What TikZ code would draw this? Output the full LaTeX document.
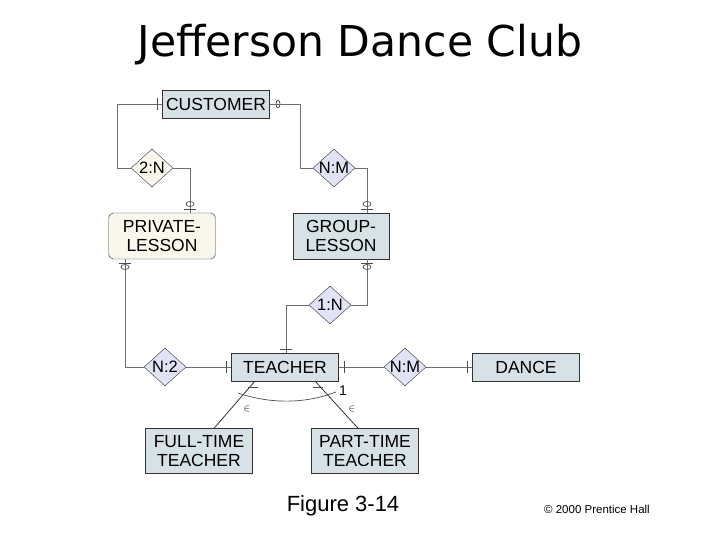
\documentclass[tikz,border=0pt]{standalone}
\usepackage{fontspec}
\setmainfont{Liberation Sans}
\newfontfamily\titlefont{DejaVu Sans}
\usetikzlibrary{shapes.geometric}
\definecolor{ent}{HTML}{D6E2E6}
\definecolor{rel}{HTML}{E2E4F6}
\definecolor{cream}{HTML}{FAF8EC}
\definecolor{ln}{HTML}{6E6E6E}
\begin{document}
\begin{tikzpicture}[x=1pt,y=-1pt,
  ent/.style={draw=black!80,fill=ent,minimum width=107pt,minimum height=28pt,align=center,font=\fontsize{17.5}{19}\selectfont,inner sep=1pt},
  rel/.style={draw=black!80,fill=rel,diamond,minimum width=42pt,minimum height=38pt,inner sep=-4pt,font=\fontsize{16.5}{16.5}\selectfont,aspect=1.1},
  con/.style={draw=ln,line width=0.8pt},
  mk/.style={draw=black!70,line width=0.7pt}]
\useasboundingbox (0,0) rectangle (720,540);
\node[font=\titlefont\fontsize{42.5}{44}\selectfont] (title) at (360,45) {Jefferson Dance Club};
\node[font=\fontsize{22}{24}\selectfont] (fig) at (343,506) {Figure 3-14};
\node[font=\fontsize{11.5}{12}\selectfont] (copy) at (597,509) {© 2000 Prentice Hall};

\node[ent] (cust) at (216,104) {CUSTOMER};
\node[rel,fill=cream] (r2n) at (152,168) {2:N};
\node[rel] (rnm) at (334,168) {N:M};
\node[ent,fill=cream,rounded corners=5pt,minimum height=46pt] (priv) at (162,236) {PRIVATE-\\LESSON};
\node[ent,minimum width=96pt,minimum height=46pt] (grp) at (341,236) {GROUP-\\LESSON};
\node[rel] (r1n) at (330,305) {1:N};
\node[rel] (rn2) at (165,367) {N:2};
\node[ent] (teach) at (285,367) {TEACHER};
\node[rel] (rnm2) at (405,367) {N:M};
\node[ent] (dance) at (526,367) {DANCE};
\node[ent,minimum height=45pt] (ft) at (199,451) {FULL-TIME\\TEACHER};
\node[ent,minimum height=45pt] (pt) at (365,451) {PART-TIME\\TEACHER};

\draw[con] (cust.west) -| (117,168) -- (r2n.west);
\draw[con] (r2n.east) -| (priv.north -| 190,0);
\draw[con] (cust.east) -| (300,168) -- (rnm.west);
\draw[con] (rnm.east) -| (grp.north -| 367,0);
\draw[con] (grp.south -| 367,0) |- (r1n.east);
\draw[con] (r1n.west) -| (teach.north -| 286,0);
\draw[con] (priv.south -| 125,0) |- (rn2.west);
\draw[con] (rn2.east) -- (teach.west);
\draw[con] (teach.east) -- (rnm2.west);
\draw[con] (rnm2.east) -- (dance.west);
\coordinate (a1) at (255,381); \coordinate (a2) at (315,381);
\draw[con,draw=black!80] (a1) -- (ft.north -| 214,0);
\draw[con,draw=black!80] (a2) -- (pt.north -| 358,0);
% marks
\draw[mk] (157,98) -- (157,110);
\draw[mk] (278,104) ellipse (2pt and 4pt);
\draw[mk] (190,204) ellipse (4pt and 2.5pt); \draw[mk] (184,209) -- (196,209);
\draw[mk] (367,204) ellipse (4pt and 2.5pt); \draw[mk] (361,209) -- (373,209);
\draw[mk] (367,267) ellipse (4pt and 2.5pt); \draw[mk] (361,263) -- (373,263);
\draw[mk] (125,267) ellipse (4pt and 2.5pt); \draw[mk] (119,263) -- (131,263);
\draw[mk] (280,349) -- (292,349);
\draw[mk] (226,361) -- (226,373);
\draw[mk] (344,361) -- (344,373);
\draw[mk] (467,361) -- (467,373);
\draw[mk] (248,387) -- (258,387);
\draw[mk] (313,387) -- (323,387);
\draw[mk] (238,393) .. controls (270,404) and (305,404) .. (336,392);
\node[font=\fontsize{14}{14}\selectfont] (one) at (343,391) {1};
\node[font=\fontsize{10}{10}\selectfont] (e1) at (247,409) {$\in$};
\node[font=\fontsize{10}{10}\selectfont] (e2) at (352,409) {$\in$};
\end{tikzpicture}
\end{document}
